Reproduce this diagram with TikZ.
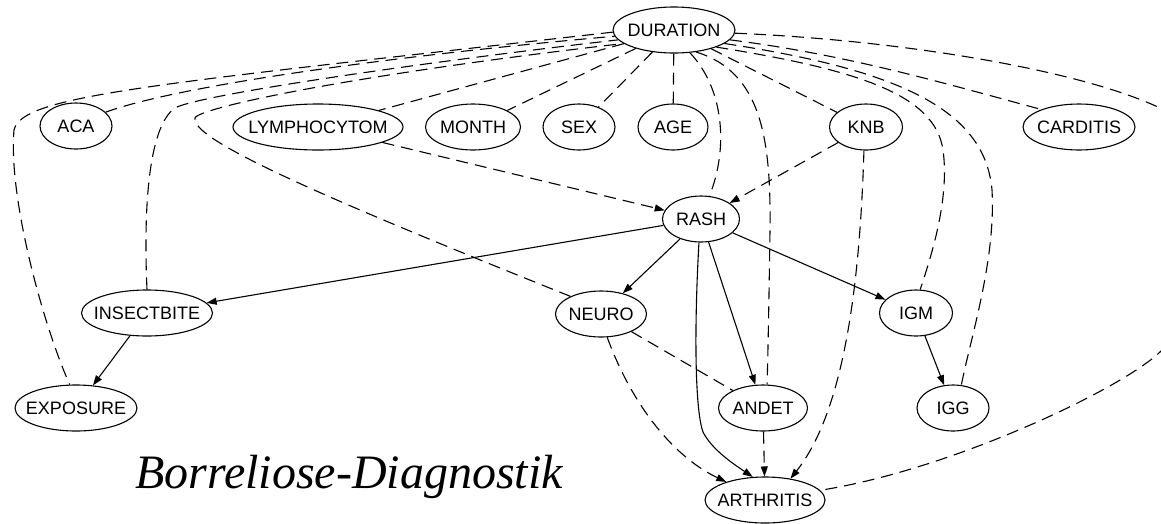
\documentclass[tikz,border=0pt]{standalone}
\usepackage{fontspec}
\setmainfont{Liberation Serif}
\setsansfont{Liberation Sans}
\usetikzlibrary{shapes.geometric,arrows.meta}

\begin{document}
\begin{tikzpicture}[x=1pt,y=-1pt]
\tikzset{VertexStyle/.style={ellipse, draw, line width=1.1pt, inner xsep=-12pt, inner ysep=0pt,
  minimum height=46pt, font=\sffamily\fontsize{18}{20}\selectfont}}
\tikzset{EdgeStyle/.style={line width=1.1pt, -{Triangle[length=10pt,width=7pt]}}}
\tikzset{LinkStyle/.style={line width=1.1pt, dash pattern=on 12pt off 7pt}}
\tikzset{DashEdgeStyle/.style={LinkStyle, -{Triangle[length=10pt,width=7pt]}}}
\useasboundingbox (0,0) rectangle (1161,523);
\clip (0,0) rectangle (1161,523);
% variables
\node[VertexStyle, minimum width=122pt] (dur) at (674,30) {DURATION};
\node[VertexStyle, minimum width=72pt]  (aca) at (76,126) {ACA};
\node[VertexStyle, minimum width=170pt] (lym) at (318,127) {LYMPHOCYTOM};
\node[VertexStyle, minimum width=95pt]  (mon) at (473,127) {MONTH};
\node[VertexStyle, minimum width=72pt]  (sex) at (579,127) {SEX};
\node[VertexStyle, minimum width=70pt]  (age) at (673,127) {AGE};
\node[VertexStyle, minimum width=73pt]  (knb) at (866,127) {KNB};
\node[VertexStyle, minimum width=112pt] (car) at (1079,127) {CARDITIS};
\node[VertexStyle, minimum width=77pt]  (rash) at (701,219) {RASH};
\node[VertexStyle, minimum width=131pt] (ins) at (147,313) {INSECTBITE};
\node[VertexStyle, minimum width=91pt]  (neu) at (601,314) {NEURO};
\node[VertexStyle, minimum width=73pt]  (igm) at (916,313) {IGM};
\node[VertexStyle, minimum width=122pt] (exp) at (76,408) {EXPOSURE};
\node[VertexStyle, minimum width=89pt]  (and) at (763,408) {ANDET};
\node[VertexStyle, minimum width=72pt]  (igg) at (953,408) {IGG};
\node[VertexStyle, minimum width=120pt] (art) at (765,500) {ARTHRITIS};
\node[anchor=base west, inner sep=0pt, font=\itshape\fontsize{48}{50}\selectfont]
  (title) at (135,488) {Borreliose-Diagnostik};
% links of DURATION
\draw[LinkStyle] (dur.182) .. controls (150,85) and (22,95) .. (14,130)
  .. controls (8,200) and (45,330) .. (exp.105);
\draw[LinkStyle] (aca.25) .. controls (180,85) and (400,55) .. (dur.186);
\draw[LinkStyle] (ins.90) .. controls (143,200) and (150,125) .. (175,108)
  .. controls (195,96) and (400,65) .. (dur.190);
\draw[LinkStyle] (neu.150) .. controls (330,200) and (190,140) .. (195,118)
  .. controls (198,108) and (350,75) .. (dur.195);
\draw[LinkStyle] (dur) -- (lym);
\draw[LinkStyle] (dur) -- (mon);
\draw[LinkStyle] (dur) -- (sex);
\draw[LinkStyle] (dur) -- (age);
\draw[LinkStyle] (dur.-55) .. controls (725,90) and (728,150) .. (rash.70);
\draw[LinkStyle] (dur.-45) .. controls (762,72) and (771,140) .. (770,230)
  .. controls (769,300) and (768,350) .. (and.80);
\draw[LinkStyle] (dur) -- (knb);
\draw[LinkStyle] (dur.-22) .. controls (860,70) and (935,95) .. (943,150)
  .. controls (950,200) and (930,260) .. (igm.80);
\draw[LinkStyle] (dur.-15) .. controls (900,70) and (985,110) .. (992,190)
  .. controls (996,260) and (970,340) .. (igg.70);
\draw[LinkStyle] (dur.-10) .. controls (850,55) and (950,85) .. (car.155);
\draw[LinkStyle] (dur.-3) .. controls (900,40) and (1080,70) .. (1160,108)
  .. controls (1200,127) and (1205,310) .. (1160,352)
  .. controls (1120,390) and (950,470) .. (art.10);
\draw[LinkStyle] (neu) -- (and);
% directed edges
\draw[DashEdgeStyle] (lym) -- (rash);
\draw[DashEdgeStyle] (knb) -- (rash);
\draw[DashEdgeStyle] (knb.265) .. controls (860,280) and (845,410) .. (art.40);
\draw[DashEdgeStyle] (neu.-75) .. controls (630,400) and (670,455) .. (art.155);
\draw[DashEdgeStyle] (and) -- (art);
\draw[EdgeStyle] (rash) -- (ins);
\draw[EdgeStyle] (rash) -- (neu);
\draw[EdgeStyle] (rash) -- (and);
\draw[EdgeStyle] (rash) -- (igm);
\draw[EdgeStyle] (rash.265) .. controls (694,330) and (695,410) .. (703,432)
  .. controls (712,450) and (735,465) .. (art.118);
\draw[EdgeStyle] (ins) -- (exp);
\draw[EdgeStyle] (igm) -- (igg);
\end{tikzpicture}
\end{document}
